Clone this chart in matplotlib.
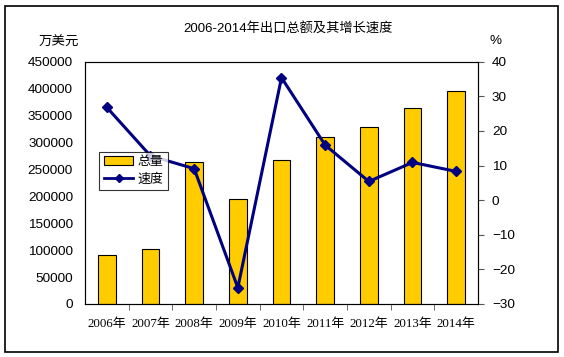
import numpy as np
import matplotlib.pyplot as plt
from matplotlib.patches import Rectangle
from matplotlib.lines import Line2D

plt.rcParams['font.family'] = ['Liberation Sans', 'Noto Sans CJK SC', 'DejaVu Sans']

# ---------- Data ----------
years = ['2006年', '2007年', '2008年', '2009年', '2010年', '2011年', '2012年', '2013年', '2014年']
total = [91500, 103000, 263500, 195000, 267500, 310500, 328000, 363500, 395000]
speed = [26.8, 12.8, 9.1, -25.3, 35.4, 15.9, 5.4, 10.9, 8.3]

# ---------- Figure ----------
fig = plt.figure(figsize=(5.64, 3.57), dpi=100)
fig.patches.append(Rectangle((5 / 564, 1 - 352 / 357), 553 / 564, 346 / 357,
                             transform=fig.transFigure, fill=False,
                             edgecolor='black', linewidth=1.2))

ax = fig.add_axes([85 / 564, 1 - 304 / 357, 393 / 564, 242.3 / 357])
x = np.arange(len(years))
ax.bar(x, total, width=0.41, color='#FFCC00', edgecolor='black', linewidth=0.8, zorder=2)
ax.set_xlim(-0.5, len(years) - 0.5)
ax.set_ylim(0, 450000)
ax.set_yticks(np.arange(0, 450001, 50000))
ax.tick_params(axis='y', length=0, labelsize=9.7, pad=8.6)
ax.set_xticks(x)
ax.set_xticklabels(years, family=['Liberation Serif', 'Noto Sans CJK SC'], fontsize=9.3)
ax.tick_params(axis='x', length=0, pad=10)
ax.set_xticks(np.arange(0.5, len(years) - 0.5), minor=True)
ax.tick_params(axis='x', which='minor', length=4, direction='out', color='#555555')
for s in ax.spines.values():
    s.set_color('#444444')
    s.set_linewidth(0.8)

ax2 = ax.twinx()
ax2.plot(x, speed, color='#000080', linewidth=2.2, marker='D', markersize=5.5, zorder=3)
ax2.set_ylim(-30, 40)
ax2.set_yticks(np.arange(-30, 41, 10))
ax2.tick_params(axis='y', length=4, direction='out', labelsize=9.7, pad=6, color='#555555')

handles = [Rectangle((0, 0), 1, 1, facecolor='#FFCC00', edgecolor='black', linewidth=0.8),
           Line2D([], [], color='#000080', linewidth=2, marker='D', markersize=4)]
leg = ax2.legend(handles, ['总量', '速度'], loc='upper left', bbox_to_anchor=(0.036, 0.628),
                 frameon=True, fancybox=False, edgecolor='black', fontsize=9.3,
                 borderpad=0.35, handlelength=2.3, labelspacing=0.35, handletextpad=0.3,
                 borderaxespad=0)
leg.get_frame().set_linewidth(0.8)
leg.set_zorder(10)

fig.text(287.5 / 564, 1 - 28 / 357, '2006-2014年出口总额及其增长速度', ha='center', va='center', fontsize=9.5)
fig.text(59 / 564, 1 - 43 / 357, '万美元', ha='center', va='center', fontsize=9.7)
fig.text(495 / 564, 1 - 41 / 357, '%', ha='center', va='center', fontsize=9.7)

fig.savefig('out.png', dpi=100)
